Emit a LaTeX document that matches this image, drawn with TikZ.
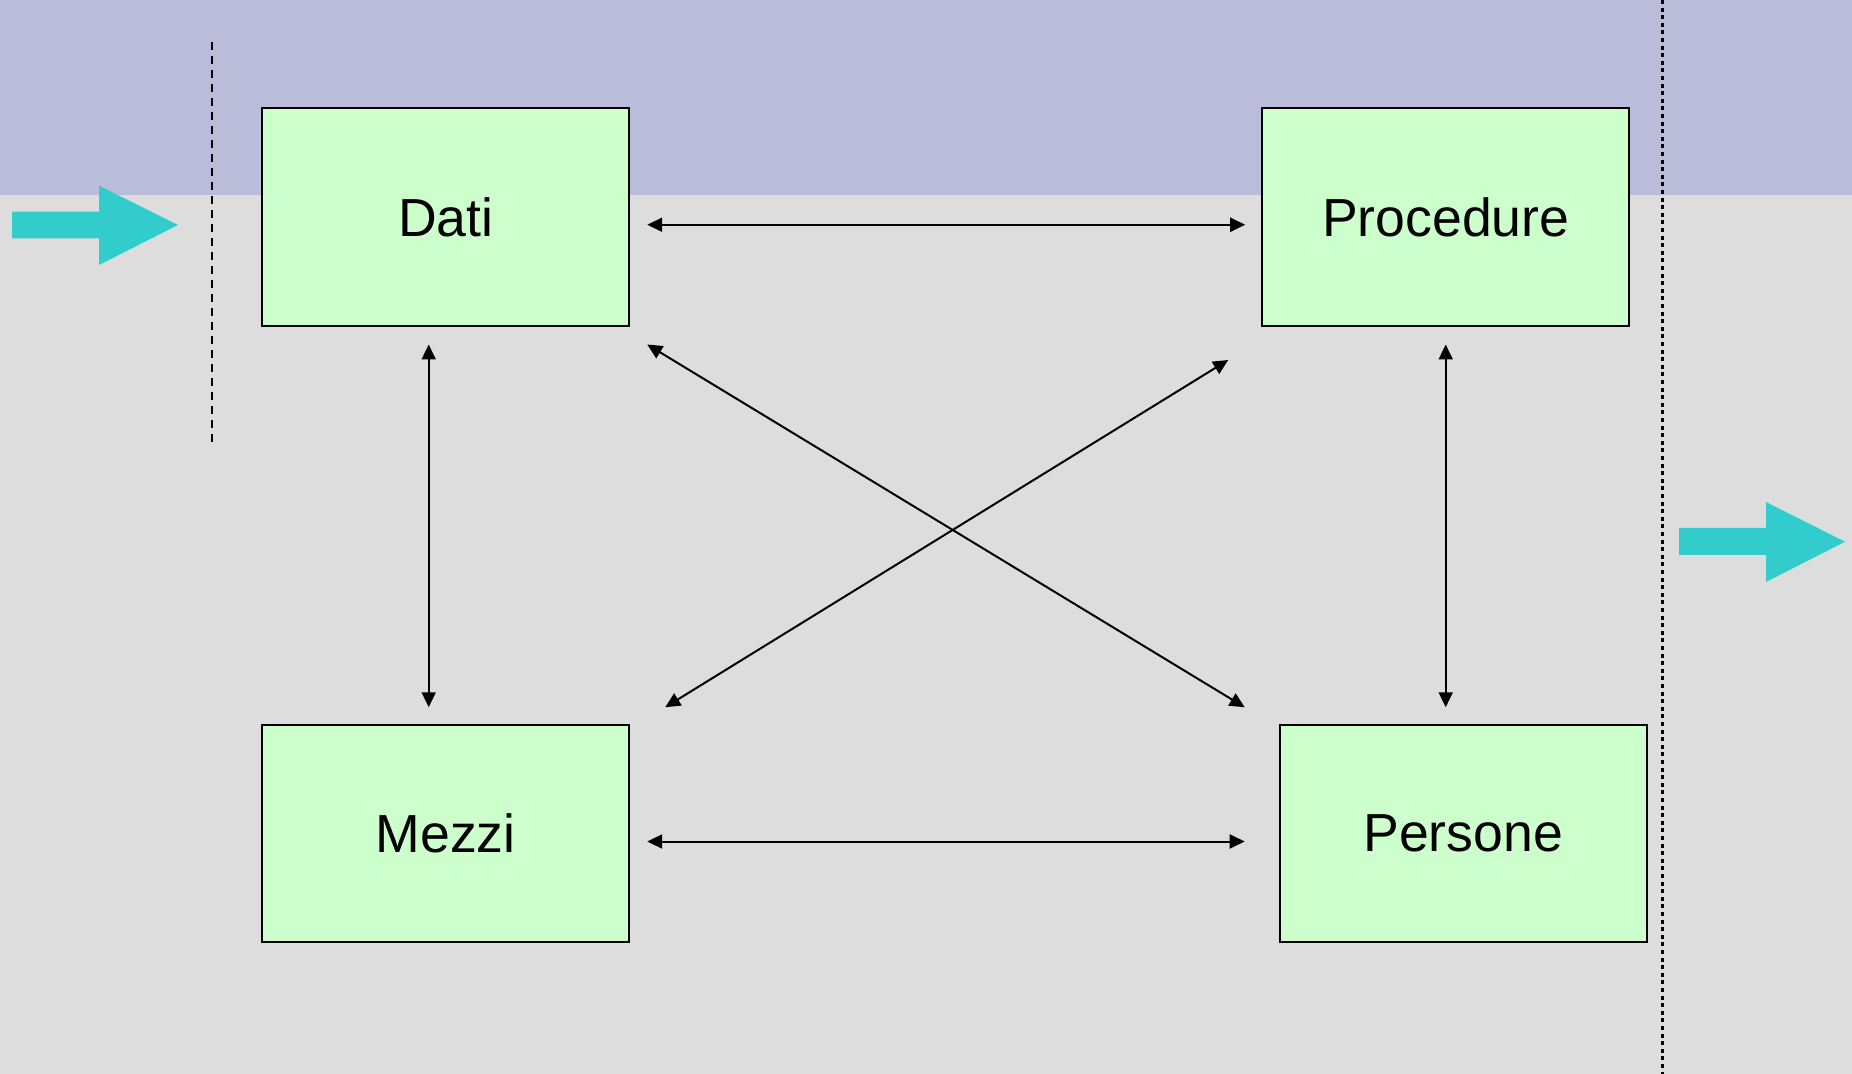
\documentclass[tikz,border=0pt]{standalone}
\usepackage{fontspec}
\setmainfont{Liberation Sans}
\usetikzlibrary{arrows.meta}
\definecolor{bgGrey}{HTML}{DDDDDD}
\definecolor{bandBlue}{HTML}{B9BDD9}
\definecolor{boxGreen}{HTML}{CCFFCC}
\definecolor{flowCyan}{HTML}{33CCCC}
\tikzset{
  area/.style={draw=black, line width=1pt, fill=boxGreen, minimum width=183.5pt,
    minimum height=108.75pt, inner sep=0pt, font=\fontsize{26.8}{30}\selectfont},
  link/.style={line width=1pt, {Triangle[length=7.5pt,width=7pt]}-{Triangle[length=7.5pt,width=7pt]}},
  limit/.style={line width=1pt, dash pattern=on 4pt off 3pt},
  limitfine/.style={line width=1.4pt, dash pattern=on 2pt off 1.8pt},
}
\begin{document}
\begin{tikzpicture}[x=0.5pt, y=-0.5pt]
  % canvas and upper band
  \fill[bgGrey] (0,0) rectangle (1852,1074);
  \fill[bandBlue] (0,0) rectangle (1852,195);
  \useasboundingbox (0,0) rectangle (1852,1074);

  % boundary lines
  \draw[limit] (212.3,42) -- (212.3,442);
  \draw[limitfine] (1662.7,0) -- (1662.7,1074);

  % flow arrows in and out
  \fill[flowCyan] (12,211.7) -- (99,211.7) -- (99,185.7) -- (178,225)
    -- (99,265) -- (99,238.3) -- (12,238.3) -- cycle;
  \fill[flowCyan] (1679,528) -- (1766,528) -- (1766,502) -- (1845,541.7)
    -- (1766,582) -- (1766,555) -- (1679,555) -- cycle;

  % the four areas
  \node[area] (dati) at (445.7,217.25) {Dati};
  \node[area] (proc) at (1445.7,217.25) {Procedure};
  \node[area] (mezzi) at (445.7,833.5) {Mezzi};
  \node[area] (pers) at (1463.2,833.5) {Persone};

  % relations between the areas
  \draw[link] ([shift={(17,7.5)}]dati.east) -- ([shift={(-16,7.5)}]proc.west);
  \draw[link] ([shift={(17,8)}]mezzi.east) -- ([shift={(-34,8)}]pers.west);
  \draw[link] ([shift={(-17,17.5)}]dati.south) -- ([shift={(-17,-16.5)}]mezzi.north);
  \draw[link] ([shift={(0,17.5)}]proc.south) -- ([shift={(-17.5,-16.5)}]pers.north);
  \draw[link] ([shift={(17,17.5)}]dati.south east) -- ([shift={(-34,-16.5)}]pers.north west);
  \draw[link] ([shift={(-33,33)}]proc.south west) -- ([shift={(35,-16.5)}]mezzi.north east);
\end{tikzpicture}
\end{document}
